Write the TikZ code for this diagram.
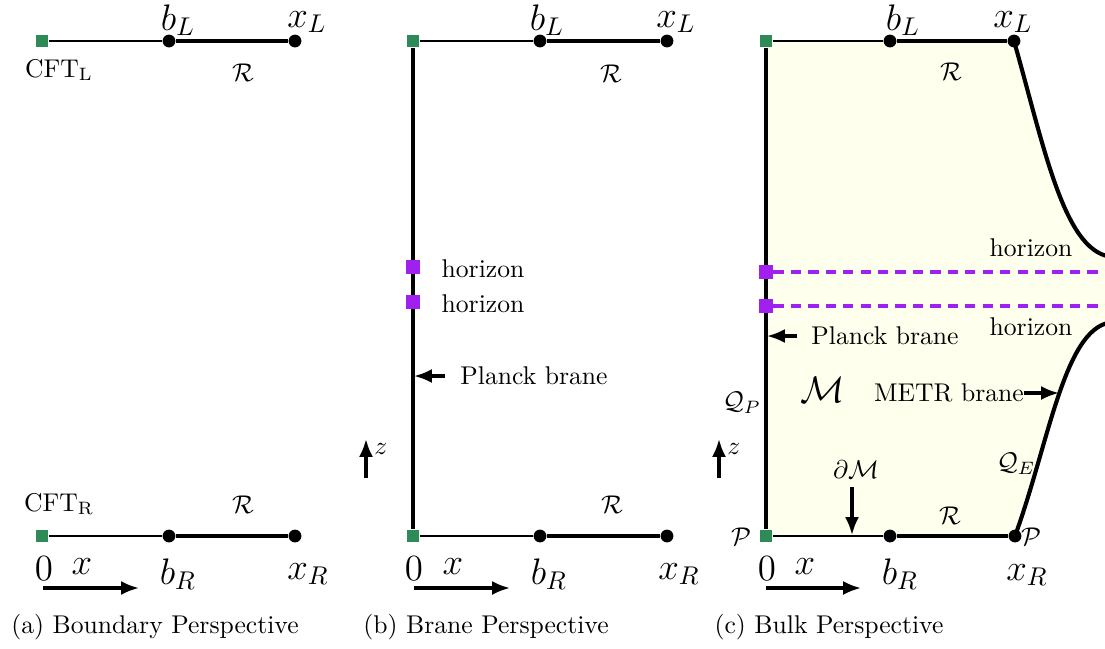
\documentclass[tikz,border=0pt]{standalone}
\usepackage{amsmath}
\usepackage{amssymb}
\usepackage{xcolor}
\definecolor{SeaGreen}{RGB}{46,139,87}
\definecolor{HorizonPurple}{RGB}{160,32,240}
\definecolor{BulkFill}{RGB}{254,255,236}
\usepackage{tikz}
\usetikzlibrary{
  arrows.meta,
  positioning, calc, backgrounds
}
\tikzset{
  % CFT end point
  cftsq/.style={rectangle, fill=SeaGreen, minimum size=5pt, inner sep=0pt},
  % horizon marker
  horsq/.style={rectangle, fill=HorizonPurple, minimum size=5.4pt, inner sep=0pt},
  % end point of the region
  ptdot/.style={circle, fill=black, minimum size=5pt, inner sep=0pt},
  % Lines
  thinline/.style={line width=0.65pt},
  thickline/.style={line width=1.6pt},
  brane/.style={line width=1.6pt},
  hordash/.style={HorizonPurple, line width=1.2pt, dash pattern=on 4pt off 2.8pt},
  % Arrows
  arr/.style={-{Latex[length=7pt,width=5.5pt]}, line width=1.2pt},
  % Labels
  mlabel/.style={font=\Large, inner sep=1pt},
  tlabel/.style={font=\normalsize},
}
\begin{document}
\begin{tikzpicture}[x=0.39pt, y=-0.39pt]
  \useasboundingbox (0,0) rectangle (1105,648);

  % (a) boundary
  \node[cftsq] (sqLa) at (42,41) {};
  \node[ptdot] (bLa) at (169,41) {};
  \node[ptdot] (xLa) at (295,41) {};
  \node[cftsq] (sqRa) at (42,536) {};
  \node[ptdot] (bRa) at (169,536) {};
  \node[ptdot] (xRa) at (295,536) {};
  \draw[thinline] (sqLa) -- (bLa);
  \draw[thickline] (bLa) -- (xLa);
  \draw[thinline] (sqRa) -- (bRa);
  \draw[thickline] (bRa) -- (xRa);
  \node[mlabel] (lbLa) at (178,20) {$b_L$};
  \node[mlabel] (lxLa) at (307,22) {$x_L$};
  \node[tlabel] (cftLa) at (59,70) {CFT$_{\mathrm{L}}$};
  \node[tlabel] (rLa) at (243,73) {$\mathcal{R}$};
  \node[tlabel] (cftRa) at (59,504) {CFT$_{\mathrm{R}}$};
  \node[tlabel] (rRa) at (243,505) {$\mathcal{R}$};
  \node[mlabel] (zeroa) at (44,569) {$0$};
  \node[mlabel] (xlaba) at (82,567) {$x$};
  \node[mlabel] (lbRa) at (178,574) {$b_R$};
  \node[mlabel] (lxRa) at (308,574) {$x_R$};
  \coordinate (xa0) at (43,588);
  \coordinate (xa1) at (139,588);
  \draw[arr] (xa0) -- (xa1);
  \node (capa) at (155,627) {(a) Boundary Perspective};

  % (b) brane
  \node[cftsq] (sqLb) at (413,41) {};
  \node[ptdot] (bLb) at (540,41) {};
  \node[ptdot] (xLb) at (667,41) {};
  \node[cftsq] (sqRb) at (413,536) {};
  \node[ptdot] (bRb) at (540,536) {};
  \node[ptdot] (xRb) at (667,536) {};
  \draw[thinline] (sqLb) -- (bLb);
  \draw[thickline] (bLb) -- (xLb);
  \draw[thinline] (sqRb) -- (bRb);
  \draw[thickline] (bRb) -- (xRb);
  \draw[brane] (sqLb) -- (sqRb);
  \node[horsq] (h1b) at (413,267) {};
  \node[horsq] (h2b) at (413,302) {};
  \node[tlabel] (lh1b) at (483,269) {horizon};
  \node[tlabel] (lh2b) at (483,304) {horizon};
  \node[tlabel] (plb) at (534,376) {Planck brane};
  \coordinate (plb0) at (445,376);
  \coordinate (plb1) at (414,376);
  \draw[arr] (plb0) -- (plb1);
  \coordinate (zb0) at (366,478);
  \coordinate (zb1) at (366,439);
  \draw[arr] (zb0) -- (zb1);
  \node[tlabel] (zlabb) at (381,449) {$z$};
  \node[mlabel] (lbLb) at (547,20) {$b_L$};
  \node[mlabel] (lxLb) at (676,22) {$x_L$};
  \node[tlabel] (rLb) at (611,74) {$\mathcal{R}$};
  \node[tlabel] (rRb) at (612,505) {$\mathcal{R}$};
  \node[mlabel] (zerob) at (414,569) {$0$};
  \node[mlabel] (xlabb) at (453,567) {$x$};
  \node[mlabel] (lbRb) at (549,574) {$b_R$};
  \node[mlabel] (lxRb) at (679,574) {$x_R$};
  \coordinate (xb0) at (414,588);
  \coordinate (xb1) at (510,588);
  \draw[arr] (xb0) -- (xb1);
  \node (capb) at (486,627) {(b) Brane Perspective};

  % (c) bulk
  \node[cftsq] (sqLc) at (766,41) {};
  \node[ptdot] (bLc) at (890,41) {};
  \node[ptdot] (xLc) at (1014,41) {};
  \node[cftsq] (sqRc) at (766,536) {};
  \node[ptdot] (bRc) at (890,536) {};
  \node[ptdot] (xRc) at (1015,536) {};
  \begin{scope}[on background layer]
    \clip (0,0) rectangle (1105,648);
    \fill[BulkFill] (766,41) -- (1014,41)
      .. controls (1045,150) and (1065,257) .. (1115,257) -- (1115,322)
      .. controls (1065,322) and (1050,440) .. (1015,536) -- (766,536) -- cycle;
  \end{scope}
  \draw[thinline] (sqLc) -- (bLc);
  \draw[thickline] (bLc) -- (xLc);
  \draw[thinline] (sqRc) -- (bRc);
  \draw[thickline] (bRc) -- (xRc);
  \draw[brane] (sqLc) -- (sqRc);
  \begin{scope}
    \clip (0,0) rectangle (1105,648);
    \draw[brane] (xLc.center) .. controls (1045,150) and (1065,257) .. (1115,257);
    \draw[brane] (xRc.center) .. controls (1050,440) and (1065,322) .. (1115,322);
  \end{scope}
  \coordinate (h1e) at (1105,272);
  \coordinate (h2e) at (1105,306);
  \node[horsq] (h1c) at (766,272) {};
  \node[horsq] (h2c) at (766,306) {};
  \draw[hordash] (h1c) -- (h1e);
  \draw[hordash] (h2c) -- (h2e);
  \node[tlabel] (lh1c) at (1031,248) {horizon};
  \node[tlabel] (lh2c) at (1031,327) {horizon};
  \node[tlabel] (plc) at (885,336) {Planck brane};
  \coordinate (plc0) at (797,336);
  \coordinate (plc1) at (767,336);
  \draw[arr] (plc0) -- (plc1);
  \node[tlabel] (qpc) at (742,403) {$\mathcal{Q}_P$};
  \node[font=\Large] (mc) at (823,390) {$\mathcal{M}$};
  \node[tlabel] (metr) at (949,393) {METR brane};
  \coordinate (metr0) at (1024,393);
  \coordinate (metr1) at (1059,393);
  \draw[arr] (metr0) -- (metr1);
  \node[tlabel] (qec) at (1016,464) {$\mathcal{Q}_E$};
  \node[tlabel] (dmc) at (856,470) {$\partial\mathcal{M}$};
  \coordinate (dm0) at (852,487);
  \coordinate (dm1) at (852,535);
  \draw[arr] (dm0) -- (dm1);
  \coordinate (zc0) at (719,478);
  \coordinate (zc1) at (719,439);
  \draw[arr] (zc0) -- (zc1);
  \node[tlabel] (zlabc) at (734,449) {$z$};
  \node[tlabel] (pLc) at (741,537) {$\mathcal{P}$};
  \node[tlabel] (pRc) at (1031,537) {$\mathcal{P}$};
  \node[mlabel] (lbLc) at (903,20) {$b_L$};
  \node[mlabel] (lxLc) at (1013,22) {$x_L$};
  \node[tlabel] (rLc) at (951,72) {$\mathcal{R}$};
  \node[tlabel] (rRc) at (950,516) {$\mathcal{R}$};
  \node[mlabel] (zeroc) at (767,569) {$0$};
  \node[mlabel] (xlabc) at (805,567) {$x$};
  \node[mlabel] (lbRc) at (900,574) {$b_R$};
  \node[mlabel] (lxRc) at (1027,575) {$x_R$};
  \coordinate (xc0) at (766,588);
  \coordinate (xc1) at (861,588);
  \draw[arr] (xc0) -- (xc1);
  \node (capc) at (829,627) {(c) Bulk Perspective};
\end{tikzpicture}
\end{document}
